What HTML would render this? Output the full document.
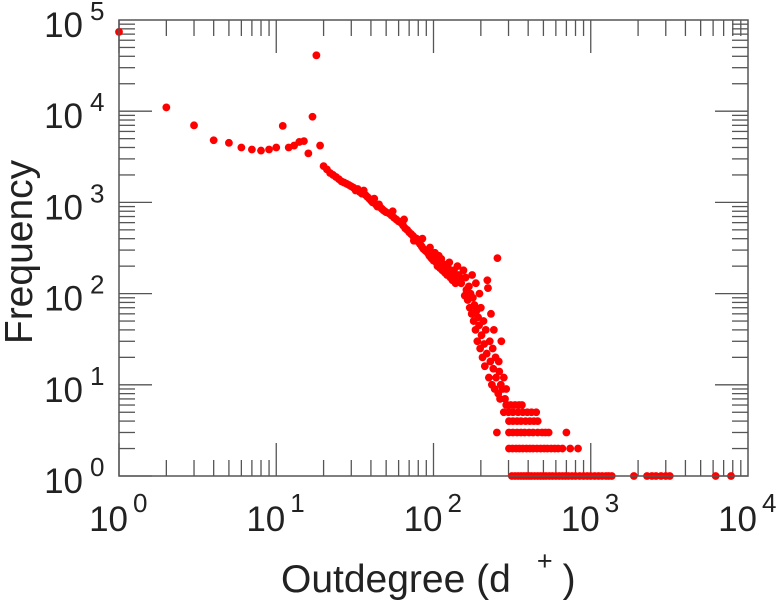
<!DOCTYPE html>
<html><head><meta charset="utf-8">
<style>
html,body{margin:0;padding:0;background:#fff;}
svg{display:block;font-family:"Liberation Sans",sans-serif;}
</style></head>
<body>
<svg id="chart" width="779" height="600" viewBox="0 0 779 600">
  <g id="ticks"></g>
  <g id="labels"></g>
  <g id="points"></g>
  <rect x="119" y="20" width="629" height="456" fill="none" stroke="#555" stroke-width="1.5"/>
  <text transform="translate(32,252) rotate(-90)" text-anchor="middle" font-size="39" fill="#222">Frequency</text>
  <text x="281" y="592" font-size="39" fill="#222">Outdegree (d<tspan font-size="27" dx="26" dy="-22">+</tspan><tspan dx="10" dy="22">)</tspan></text>
</svg>
<script>
const headDeg = [1,2,3,4,5,6,7,8,9,10,11,12,13,14,15,16,17,18,19];
const headFreq = [74000,11000,7000,4800,4500,4000,3800,3700,3800,4000,6900,4000,4200,4600,4700,3450,8700,41000,4200];
const bodyDeg = [20,21,22,23,24,25,26,27,28,29,30,31,32,33,34,35,36,37,38,39,40,41,42,43,44,45,46,47,48,49,50,52,54,55,56,58,60,62,64,65,66,68,70,72,74,75,76,78,80,82,84,85,86,88,90,92,94,95,96,98,100,102,104,106,108,110,112,114,116,118,120,122,124,126,128,130,132,135,138,140,142,145,148];
const bodyFreq = [2500,2300,2100,2000,1900,1800,1700,1650,1600,1550,1500,1450,1350,1400,1300,1250,1350,1200,1150,1100,1050,1000,1100,950,900,950,880,850,820,800,780,760,720,800,680,650,620,600,560,650,520,500,470,450,430,380,410,400,370,350,330,400,310,300,290,280,260,320,250,240,230,280,220,200,260,190,240,180,210,170,200,160,190,220,150,170,140,180,130,150,200,160,140];
const tailDeg = [150,155,158,160,162,165,168,170,172,175,176,178,180,182,185,186,188,190,192,195,196,198,200,202,205,208,210,212,215,218,220,222,225,228,230,232,235,238,240,242,245,248,250,255,258,260,262,265,268,270,275,280,285,290,295];
const tailFreq = [130,180,95,150,110,85,120,70,100,60,160,90,50,75,40,130,65,30,55,45,100,25,70,35,20,50,28,16,40,22,140,115,12,30,18,60,10,25,15,40,9,20,12,245,8,18,14,7,10,30,9,12,7,9,6];
const rowLevels = [1,2,3,4,5,6];
const rowDegs = [
  [315,330,345,360,375,390,405,420,440,460,480,500,520,545,570,600,630,660,690,720,760,800,850,900,950,1000,1060,1120,1180,1250,1300,1360,1880,2280,2450,2600,2800,3000,3180,6230,7800],
  [302,318,335,352,370,390,410,430,455,480,505,530,560,590,620,660,740,830],
  [253,302,320,340,360,380,405,430,460,490,515,540,700],
  [302,320,340,360,385,410,435,460],
  [280,300,320,345,370,395,420,450],
  [290,310,330,350,365]
];
const xTickExps = [0,1,2,3,4];
const yTickExps = [0,1,2,3,4,5];

const NS = "http://www.w3.org/2000/svg";
const X0 = 119, XD = 157.25, Y0 = 476, YD = 91.2;
function xs(d){ return X0 + XD*Math.log10(d); }
function ys(f){ return Y0 - YD*Math.log10(f); }
function mk(tag, attrs, parent){
  const e = document.createElementNS(NS, tag);
  for (const k in attrs) e.setAttribute(k, attrs[k]);
  parent.appendChild(e);
  return e;
}
const gT = document.getElementById('ticks');
const gL = document.getElementById('labels');
const gP = document.getElementById('points');

for (let e = 0; e < 4; e++) {
  for (let m = 1; m <= 9; m++) {
    const x = xs(m*Math.pow(10,e));
    const len = m === 1 ? 33 : 16;
    const t1 = mk('line',{x1:x,y1:Y0,x2:x,y2:Y0-len,stroke:'#555','stroke-width':1.3},gT);
    
    
    const t2 = mk('line',{x1:x,y1:20,x2:x,y2:20+len,stroke:'#555','stroke-width':1.3},gT);
    
    
  }
}
for (let e = 0; e < 5; e++) {
  for (let m = 1; m <= 9; m++) {
    const y = ys(m*Math.pow(10,e));
    const len = m === 1 ? 33 : 16;
    const t1 = mk('line',{x1:X0,y1:y,x2:X0+len,y2:y,stroke:'#555','stroke-width':1.3},gT);
    
    
    const t2 = mk('line',{x1:748,y1:y,x2:748-len,y2:y,stroke:'#555','stroke-width':1.3},gT);
    
    
  }
}
xTickExps.forEach(e => {
  const x = xs(Math.pow(10,e));
  const t = mk('text',{x:x+9,y:531,'text-anchor':'end','font-size':35,fill:'#222'},gL);
  
  
  t.textContent = '10';
  const s = mk('text',{x:x+14,y:512,'font-size':26,fill:'#222'},gL);
  
  
  s.textContent = String(e);
});
yTickExps.forEach(e => {
  const y = ys(Math.pow(10,e));
  const t = mk('text',{x:83,y:y+17,'text-anchor':'end','font-size':35,fill:'#222'},gL);
  
  
  t.textContent = '10';
  const s = mk('text',{x:90,y:y,'font-size':26,fill:'#222'},gL);
  
  
  s.textContent = String(e);
});
function dot(d,f){
  const c = mk('circle',{cx:xs(d),cy:ys(f),r:3.9,fill:'#ff0000'},gP);
  
  
}
headDeg.forEach((d,i)=>dot(d,headFreq[i]));
bodyDeg.forEach((d,i)=>dot(d,bodyFreq[i]));
tailDeg.forEach((d,i)=>dot(d,tailFreq[i]));
rowLevels.forEach((f,i)=>rowDegs[i].forEach(d=>dot(d,f)));
</script>
</body></html>
